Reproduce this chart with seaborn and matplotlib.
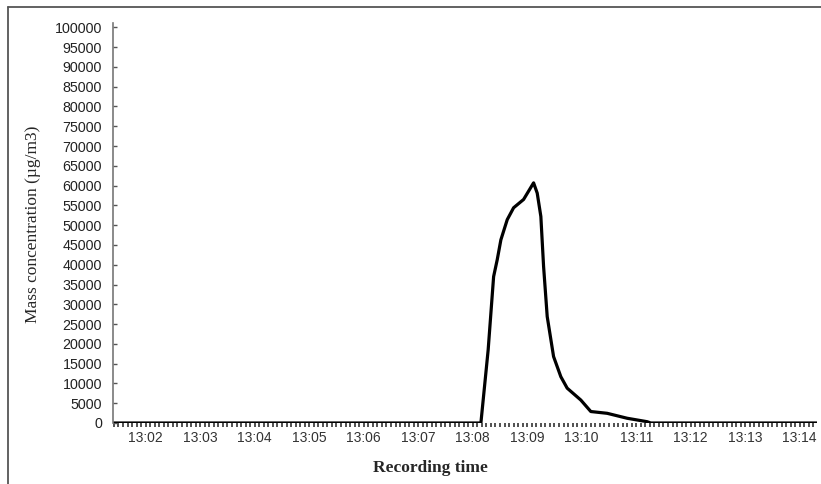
import matplotlib
matplotlib.use("Agg")
import matplotlib.pyplot as plt
import matplotlib.ticker as mticker
from matplotlib.lines import Line2D
import seaborn as sns
import pandas as pd

sns.set_style("white")

# readings taken off the curve (time, mass concentration in ug/m3)
times = [
    "13:01:24", "13:08:09", "13:08:17", "13:08:23", "13:08:27", "13:08:31",
    "13:08:38", "13:08:45", "13:08:56", "13:09:07", "13:09:11", "13:09:15",
    "13:09:18", "13:09:22", "13:09:29", "13:09:37", "13:09:44", "13:09:59",
    "13:10:10", "13:10:28", "13:10:50", "13:11:12", "13:11:16", "13:14:19",
]
values = [
    0, 0, 18500, 37000, 41300, 46300,
    51400, 54400, 56500, 60700, 58100, 52200,
    39600, 26900, 16800, 11700, 8800, 5800,
    2900, 2450, 1200, 330, 0, 0,
]

x_start, x_end = "13:01:24", "13:14:19"
minute_labels = ["13:02", "13:03", "13:04", "13:05", "13:06", "13:07",
                 "13:08", "13:09", "13:10", "13:11", "13:12", "13:13", "13:14"]
y_ticks = list(range(0, 100001, 5000))


def to_sec(t):
    h, m, s = (int(v) for v in t.split(":"))
    return (h - 13) * 3600 + m * 60 + s


df = pd.DataFrame({"t": [to_sec(t) for t in times], "mass": values})

fig = plt.figure(figsize=(8.21, 4.84), dpi=100)
ax = fig.add_axes([113 / 821, 1 - 423 / 484, (817 - 113) / 821, (423 - 23) / 484])

sns.lineplot(data=df, x="t", y="mass", ax=ax, color="black", linewidth=2.3)

ax.set_xlim(to_sec(x_start), to_sec(x_end))
ax.set_ylim(0, 101100)

ax.set_yticks(y_ticks)
ax.set_yticklabels([str(v) for v in y_ticks])
major = [to_sec(m + ":00") for m in minute_labels]
ax.set_xticks(major)
ax.set_xticklabels(minute_labels)
ax.xaxis.set_minor_locator(mticker.MultipleLocator(5))

ax.tick_params(axis="y", left=True, direction="in", length=3, width=1,
               color="#555555", labelsize=10.3, labelcolor="#222222", pad=8)
ax.tick_params(axis="x", which="both", bottom=True, direction="out", length=3,
               width=1.2, color="#333333", labelsize=10, labelcolor="#333333", pad=3)
for lab in ax.get_xticklabels() + ax.get_yticklabels():
    lab.set_family("Liberation Sans")

for side in ["top", "right"]:
    ax.spines[side].set_visible(False)
ax.spines["left"].set_color("#777777")
ax.spines["left"].set_linewidth(1.2)
ax.spines["bottom"].set_visible(False)

ax.set_xlabel("Recording time", family="Liberation Serif", fontweight="bold",
              fontsize=12.5)
ax.set_ylabel("Mass concentration (\u00b5g/m3)", family="Liberation Serif",
              fontsize=12.5)
ax.xaxis.set_label_coords((430 - 113) / (817 - 113), -(468 - 423) / 400)
ax.xaxis.label.set_va("center")
ax.yaxis.set_label_coords(-(113 - 33) / 704, (423 - 224) / 400)
ax.yaxis.label.set_va("center")

# outer frame of the original figure (top and left edges visible)
fig.add_artist(Line2D([8 / 821, 1], [1 - 7 / 484, 1 - 7 / 484],
                      transform=fig.transFigure, color="#555555", linewidth=1.3))
fig.add_artist(Line2D([8 / 821, 8 / 821], [0, 1 - 7 / 484],
                      transform=fig.transFigure, color="#555555", linewidth=1.3))

fig.savefig("out.png", dpi=100)
